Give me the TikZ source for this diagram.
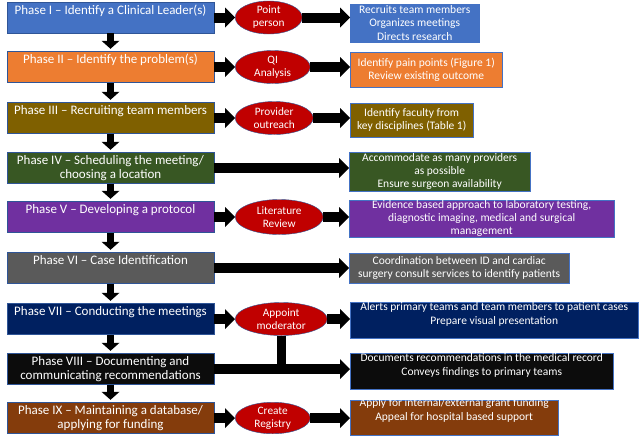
\documentclass[tikz,border=0pt]{standalone}
\usepackage{fontspec}
\setmainfont{Carlito}
\usetikzlibrary{shapes.geometric,arrows.meta}
\definecolor{boxline}{HTML}{2F5597}
\definecolor{phI}{HTML}{4472C4}
\definecolor{phII}{HTML}{ED7D31}
\definecolor{phIII}{HTML}{7F6000}
\definecolor{phIV}{HTML}{385723}
\definecolor{phV}{HTML}{7030A0}
\definecolor{phVI}{HTML}{5A5A5A}
\definecolor{phVII}{HTML}{002060}
\definecolor{phVIII}{HTML}{0C0C0C}
\definecolor{phIX}{HTML}{843C0C}
\definecolor{stepred}{HTML}{C00000}
\tikzset{
  phase/.style 2 args={draw=boxline,fill=#1,minimum width=207pt,minimum height=31pt,inner sep=0pt,
    label={[phtext]north:{#2}}},
  phtext/.style={anchor=north,yshift=-2.5pt,inner sep=0pt,text=white,align=center,
    font=\fontsize{13}{14}\selectfont},
  action/.style={ellipse,draw=boxline,fill=stepred,anchor=west,minimum height=33pt,inner sep=0pt,
    text=white,align=center,font=\fontsize{11.3}{13}\selectfont},
  result/.style={draw=phI,fill=#1,anchor=west,inner sep=0pt,text=white,align=center,
    font=\fontsize{11.5}{13.4}\selectfont},
  resulttop/.style={anchor=north,yshift=-1pt,inner sep=0pt,text=white,align=center,
    font=\fontsize{11.5}{13.4}\selectfont},
  blockarrow/.style={line width=10pt,-{Triangle[width=20pt,length=10pt,line width=0pt]}},
  downarrow/.style={line width=7pt,-{Triangle[width=18pt,length=8pt,line width=0pt]},shorten >=2.5pt}
}
\begin{document}
\begin{tikzpicture}[x=1pt,y=-1pt]
\useasboundingbox[fill=white] (0,0) rectangle (644,439);
% phases
\node[phase={phI}{Phase I – Identify a Clinical Leader(s)}] (p1) at (110.5,17.5) {};
\node[phase={phII}{Phase II – Identify the problem(s)}] (p2) at (110.5,67) {};
\node[phase={phIII}{Phase III – Recruiting team members}] (p3) at (110.5,118) {};
\node[phase={phIV}{Phase IV – Scheduling the meeting/\\choosing a location}] (p4) at (110.5,168) {};
\node[phase={phV}{Phase V – Developing a protocol}] (p5) at (110.5,217) {};
\node[phase={phVI}{Phase VI – Case Identification}] (p6) at (110.5,268) {};
\node[phase={phVII}{Phase VII – Conducting the meetings}] (p7) at (110.5,319) {};
\node[phase={phVIII}{Phase VIII – Documenting and\\communicating recommendations}] (p8) at (110.5,369) {};
\node[phase={phIX}{Phase IX – Maintaining a database/\\applying for funding}] (p9) at (110.5,418) {};
\foreach \a/\b in {p1/p2,p2/p3,p3/p4,p4/p5,p5/p6,p6/p7,p7/p8,p8/p9}
  \draw[downarrow] (\a.south) -- (\b.north);
% actions
\node[action,minimum width=67pt] (e1) at (235,17.5) {Point\\person};
\node[action,minimum width=75pt] (e2) at (235,67) {QI\\Analysis};
\node[action,minimum width=78pt] (e3) at (235,118) {Provider\\outreach};
\node[action,minimum width=88pt,minimum height=35pt] (e5) at (235,217) {Literature\\Review};
\node[action,minimum width=92pt] (e7) at (235,319) {Appoint\\moderator};
\node[action,minimum width=75pt,minimum height=31pt] (e9) at (235,418) {Create\\Registry};
% outcomes
\node[result=phI,minimum width=129pt,minimum height=38pt] (r1) at (350,23) {Recruits team members\\Organizes meetings\\Directs research};
\node[result=phII,minimum width=152pt,minimum height=35pt] (r2) at (350,69.5) {Identify pain points (Figure 1)\\Review existing outcome};
\node[result=phIII,minimum width=123pt,minimum height=34pt] (r3) at (350,120) {Identify faculty from\\key disciplines (Table 1)};
\node[result=phIV,minimum width=181pt,minimum height=39pt] (r4) at (349,171.5) {Accommodate as many providers\\as possible\\Ensure surgeon availability};
\node[result=phV,minimum width=265pt,minimum height=37pt] (r5) at (349,218.5) {Evidence based approach to laboratory testing,\\diagnostic imaging, medical and surgical\\management};
\node[result=phVI,minimum width=220pt,minimum height=30pt] (r6) at (349,268) {Coordination between ID and cardiac\\surgery consult services to identify patients};
\node[result=phVII,minimum width=288pt,minimum height=36pt,
  label={[resulttop]north:{Alerts primary teams and team members to patient cases\\Prepare visual presentation}}] (r7) at (350,320) {};
\node[result=phVIII,minimum width=263pt,minimum height=36pt,
  label={[resulttop]north:{Documents recommendations in the medical record\\Conveys findings to primary teams}}] (r8) at (350,371) {};
\node[result=phIX,minimum width=208pt,minimum height=35pt,
  label={[resulttop,yshift=2pt]north:{Apply for internal/external grant funding\\Appeal for hospital based support}}] (r9) at (350,417.5) {};
% arrows
\foreach \n in {1,2,3,5,7,9} {
  \draw[blockarrow] (p\n.east) -- (e\n.west);
  \draw[blockarrow] (e\n.east) -- (e\n.east -| r\n.west);
}
\foreach \n in {4,6,8}
  \draw[blockarrow] (p\n.east) -- (p\n.east -| r\n.west);
\draw[line width=9pt] (e7.south) -- (e7.south |- p8.east);
\end{tikzpicture}
\end{document}
